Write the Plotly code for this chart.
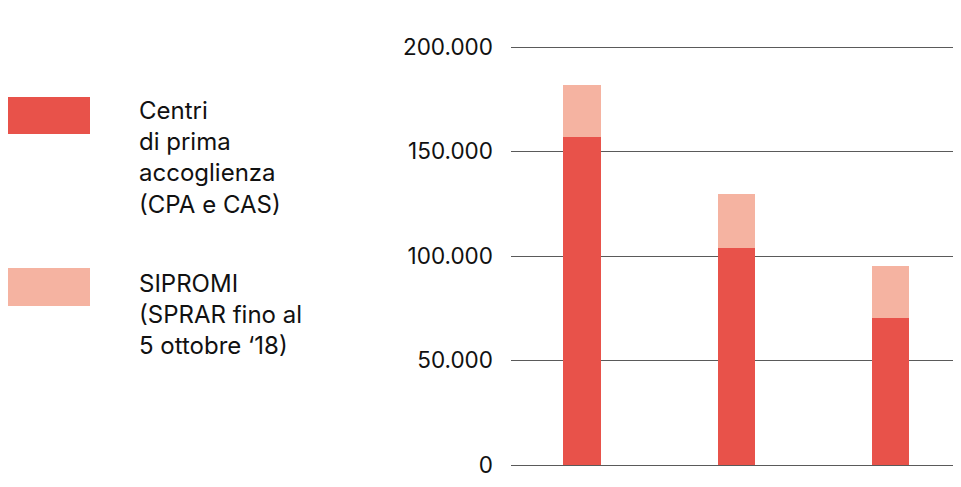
import plotly.graph_objects as go

categories = ["2017", "2018", "2019"]
cpa_cas = [156800, 103700, 70500]
sipromi = [25000, 26000, 24700]
tick_vals = [0, 50000, 100000, 150000, 200000]
tick_text = ["0", "50.000", "100.000", "150.000", "200.000"]
legend_labels = ["Centri<br>di prima<br>accoglienza<br>(CPA e CAS)",
                 "SIPROMI<br>(SPRAR fino al<br>5 ottobre ‘18)"]

DARK = "#e8524a"
LIGHT = "#f5b3a1"
FONT = "Inter"
OFF = 8  # page body margin

W, H = 961, 487
L, R, T, B = 503, 15, 35, 30
pw, ph = W - L - R, H - T - B
YMAX = 200000 * ph / 418


def px(x):
    return (x - OFF - L) / pw


def py(y):
    return (H - B - (y - OFF)) / ph


fig = go.Figure()
fig.add_bar(x=list(range(len(categories))), y=cpa_cas, marker_color=DARK,
            marker_line_width=0, width=0.243, name="CPA e CAS")
fig.add_bar(x=list(range(len(categories))), y=sipromi, marker_color=LIGHT,
            marker_line_width=0, width=0.243, name="SIPROMI")

fig.update_layout(
    barmode="stack",
    width=W, height=H,
    margin=dict(l=L, r=R, t=T, b=B),
    paper_bgcolor="white", plot_bgcolor="white",
    showlegend=False,
    font=dict(family=FONT, color="#111111", size=22),
)
fig.update_xaxes(range=[-0.46, 2.41], showticklabels=False, showgrid=False,
                 zeroline=False, showline=False, ticks="")
fig.update_yaxes(range=[0, YMAX], tickvals=tick_vals, ticktext=tick_text,
                 showgrid=True, gridcolor="#5a5a5a", gridwidth=1.2,
                 zeroline=True, zerolinecolor="#5a5a5a", zerolinewidth=1.2,
                 showline=False, ticks="", ticklabelstandoff=17,
                 tickfont=dict(family=FONT, size=22.5, color="#111111"))

# legend swatches
fig.add_shape(type="rect", xref="paper", yref="paper",
              x0=px(0), x1=px(90), y0=py(134), y1=py(97),
              fillcolor=DARK, line_width=0, layer="above")
fig.add_shape(type="rect", xref="paper", yref="paper",
              x0=px(0), x1=px(90), y0=py(306), y1=py(268),
              fillcolor=LIGHT, line_width=0, layer="above")
fig.add_annotation(xref="paper", yref="paper", x=px(137), y=py(94),
                   xanchor="left", yanchor="top", align="left", showarrow=False,
                   text=legend_labels[0], font=dict(family=FONT, size=24, color="#111111"))
fig.add_annotation(xref="paper", yref="paper", x=px(137), y=py(267),
                   xanchor="left", yanchor="top", align="left", showarrow=False,
                   text=legend_labels[1], font=dict(family=FONT, size=24, color="#111111"))

fig.write_html("out.html")
